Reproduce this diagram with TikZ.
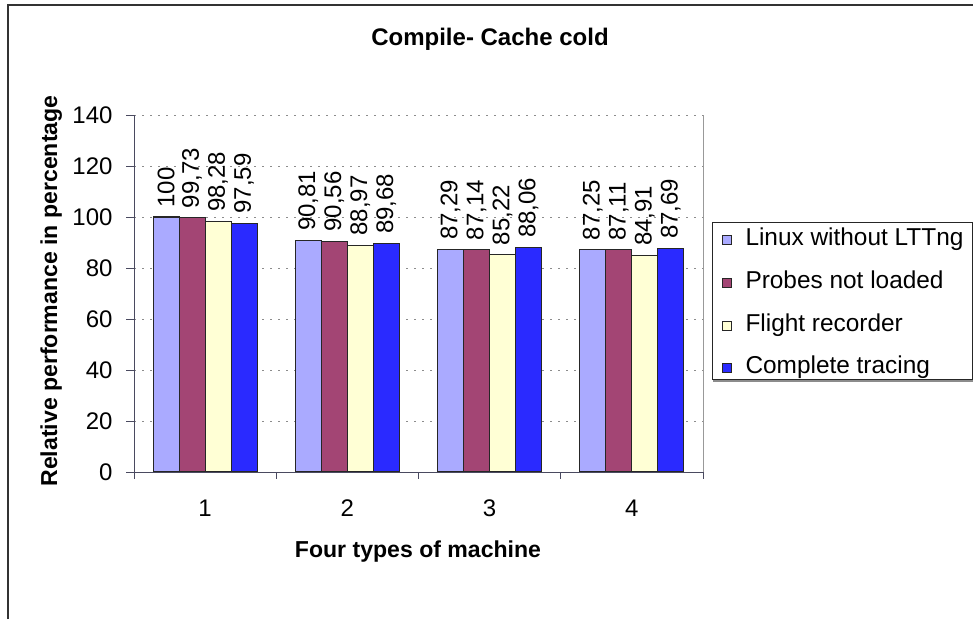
\documentclass[tikz,border=0pt]{standalone}
\usepackage{fontspec}
\setmainfont{Liberation Sans}
\definecolor{ser1}{HTML}{AAAAFF}
\definecolor{ser2}{HTML}{A34574}
\definecolor{ser3}{HTML}{FFFFD5}
\definecolor{ser4}{HTML}{2A2AFF}
\definecolor{axisc}{HTML}{4A4A60}
\tikzset{
  frame/.style={draw=black!80,line width=1.5pt},
  gridline/.style={draw=black!45,dash pattern=on 1.2pt off 4.8pt},
  bar/.style={draw=black!85,line width=.8pt},
  val/.style={font=\fontsize{18}{18}\selectfont,rotate=90,anchor=west,inner sep=0pt},
  ticklab/.style={font=\fontsize{18}{18}\selectfont,inner sep=0pt},
  axtitle/.style={font=\bfseries\fontsize{17.3}{17.3}\selectfont,inner sep=0pt},
  keybox/.style={draw=black!85,line width=.6pt,minimum size=6.5pt,inner sep=0pt},
  entry/.style={font=\fontsize{18.3}{18.3}\selectfont,anchor=base west,inner sep=0pt}
}
\begin{document}
\begin{tikzpicture}[x=0.75pt,y=-0.75pt,line width=.75pt]
      \pgfmathsetmacro{\xo}{134}
      \pgfmathsetmacro{\yo}{472}
      \pgfmathsetmacro{\s}{2.55}
      \pgfmathsetmacro{\cw}{142.25}
      \pgfmathsetmacro{\bw}{26}

      \useasboundingbox (0,0) rectangle (973,619);
      \draw[frame] (8,619) -- (8,5) -- (973,5);

      \foreach \v in {20,40,...,140}
        \draw[gridline] (\xo,{\yo-\s*\v}) -- (703,{\yo-\s*\v});
      \draw[black!40] (703,{\yo-\s*140}) -- (703,\yo);

      \foreach \c/\k/\v/\t in {1/1/100/100, 1/2/99.73/{99,73}, 1/3/98.28/{98,28}, 1/4/97.59/{97,59},
                               2/1/90.81/{90,81}, 2/2/90.56/{90,56}, 2/3/88.97/{88,97}, 2/4/89.68/{89,68},
                               3/1/87.29/{87,29}, 3/2/87.14/{87,14}, 3/3/85.22/{85,22}, 3/4/88.06/{88,06},
                               4/1/87.25/{87,25}, 4/2/87.11/{87,11}, 4/3/84.91/{84,91}, 4/4/87.69/{87,69}} {
        \pgfmathsetmacro{\bx}{\xo+(\c-1)*\cw+19.1+(\k-1)*\bw}
        \draw[bar,fill=ser\k] (\bx,\yo) rectangle ({\bx+\bw},{\yo-\s*\v});
        \node[val] (v\c\k) at ({\bx+\bw/2},{\yo-\s*\v-9}) {\t};
      }

      \draw[axisc] (\xo,{\yo-\s*140}) -- (\xo,\yo) -- (703,\yo);
      \foreach \v in {0,20,...,140} {
        \draw[axisc] (126,{\yo-\s*\v}) -- (\xo,{\yo-\s*\v});
        \node[ticklab,anchor=east] (y\v) at (113,{\yo-\s*\v}) {\v};
      }
      \foreach \c in {1,...,4} {
        \draw[axisc] ({\xo+(\c-1)*\cw},\yo) -- ({\xo+(\c-1)*\cw},479);
        \node[ticklab] (x\c) at ({\xo+(\c-.5)*\cw},508) {\c};
      }
      \draw[axisc] (703,\yo) -- (703,479);

      \node[axtitle,anchor=base,font=\bfseries\fontsize{18}{18}\selectfont] (T) at (490,45) {Compile- Cache cold};
      \node[axtitle,anchor=base] (X) at (418,557) {Four types of machine};
      \node[axtitle,anchor=base,rotate=90] (Y) at (57,291) {Relative performance in percentage};

      \draw[black!85] (712,222) rectangle (972,379);
      \draw[black!45,line width=1.5pt] (713,380.5) -- (973,380.5);
      \node[keybox,fill=ser1] (k1) at (727,240) {};
      \node[keybox,fill=ser2] (k2) at (727,283) {};
      \node[keybox,fill=ser3] (k3) at (727,326) {};
      \node[keybox,fill=ser4] (k4) at (727,368) {};
      \node[entry] (e1) at (745,245) {Linux without LTTng};
      \node[entry] (e2) at (745,288) {Probes not loaded};
      \node[entry] (e3) at (745,331) {Flight recorder};
      \node[entry] (e4) at (745,373) {Complete tracing};
    \end{tikzpicture}
\end{document}
